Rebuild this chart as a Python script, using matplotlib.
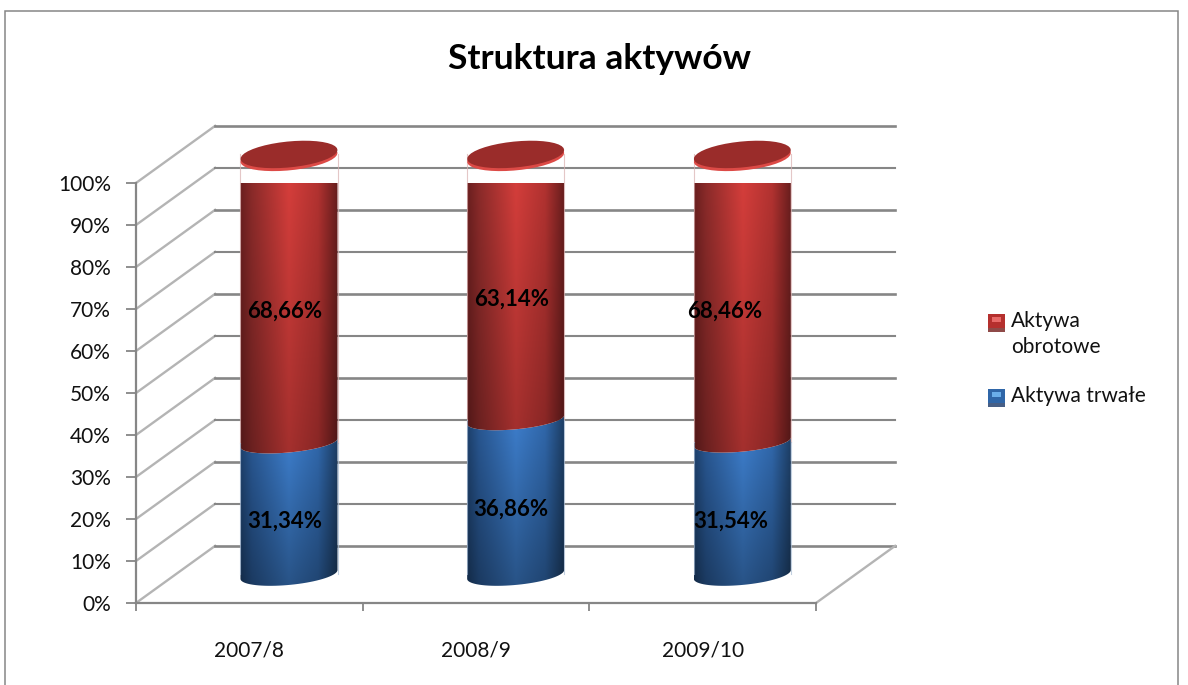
#!/usr/bin/env python3
"""Struktura aktywow - stacked 3D look cylinder chart."""
import matplotlib
matplotlib.use('Agg')
import matplotlib.pyplot as plt
import numpy as np
from matplotlib.patches import PathPatch, Polygon, Rectangle
from matplotlib.path import Path

plt.rcParams['font.family'] = ['Lato', 'DejaVu Sans']

years = ['2007/8', '2008/9', '2009/10']
trwale = [31.34, 36.86, 31.54]
obrotowe = [68.66, 63.14, 68.46]
trwale_labels = ['31,34%', '36,86%', '31,54%']
obrotowe_labels = ['68,66%', '63,14%', '68,46%']
yticks = [0, 10, 20, 30, 40, 50, 60, 70, 80, 90, 100]

W, H = 1188, 685
GRID = '#868686'
DEPTH_X, DEPTH_Y = 0.349, 13.6   # wall depth in data units
BAR_SHIFT = 0.175
BAR_HALF = 0.214
BASE = 6.8                       # bar floor sits this far above the front edge
TILT = 1.05


def profile(stops, n=128):
    xs = np.linspace(0, 1, n)
    pos = [s[0] for s in stops]
    rgb = np.array([matplotlib.colors.to_rgb(s[1]) for s in stops])
    return np.stack([np.interp(xs, pos, rgb[:, i]) for i in range(3)], axis=1)


RED = profile([(0, '#6e2020'), (0.12, '#8f2c2b'), (0.5, '#dc403d'), (0.8, '#b83432'), (1, '#6a1e1e')])
BLUE = profile([(0, '#1f4472'), (0.12, '#2b5c9a'), (0.5, '#4084d6'), (0.8, '#336db4'), (1, '#1e4068')])


def arc(cx, cy, b, t0, t1, n=40):
    t = np.linspace(t0, t1, n)
    return np.column_stack([cx + BAR_HALF * np.cos(t), cy + b * np.sin(t) + TILT * np.cos(t)])


def segment(ax, cx, y0, y1, colors, top_back, b0=2.5, b1=2.3, dim=(0.72, 1.0)):
    # y0 and y1 are ellipse centres, front arc at bottom, front or back arc at top
    lower = arc(cx, y0, b0, np.pi, 2 * np.pi)
    if top_back:
        upper = arc(cx, y1, b1, 0, np.pi)
    else:
        upper = arc(cx, y1, b1, 2 * np.pi, np.pi)
    pts = np.vstack([lower, upper])
    patch = Polygon(pts, closed=True, transform=ax.transData, facecolor='none', edgecolor='none')
    ax.add_patch(patch)
    shade = np.linspace(dim[0], dim[1], 64)[:, None, None]
    img = colors[None, :, :] * shade
    im = ax.imshow(img, extent=(cx - BAR_HALF, cx + BAR_HALF, y0 - 4, y1 + 4), origin='lower',
                   aspect='auto', zorder=3, clip_on=True, interpolation='bilinear')
    im.set_clip_path(patch)
    return im


fig = plt.figure(figsize=(W / 100, H / 100), dpi=100, facecolor='white')
ax = fig.add_axes([136 / W, 1 - 603 / H, 680 / W, 420 / H])
ax.patch.set_visible(False)

# outer frame
fig.add_artist(Rectangle((4.5 / W, -0.01), (1178 - 4.5) / W, 1.01 - 10.5 / H, transform=fig.transFigure,
                         fill=False, edgecolor=GRID, lw=1.1))

# walls
for v in yticks:
    ax.plot([0, DEPTH_X], [v, v + DEPTH_Y], color='#b4b4b4', lw=1.7, zorder=1, clip_on=False)
    ax.plot([DEPTH_X, 3 + DEPTH_X], [v + DEPTH_Y] * 2, color=GRID, lw=1.5 if v % 20 else 1.9, zorder=1, clip_on=False)
ax.plot([3, 3 + DEPTH_X], [0, DEPTH_Y], color='#b4b4b4', lw=1.7, zorder=1, clip_on=False)

# bars
for i in range(len(years)):
    cx = i + 0.5 + BAR_SHIFT
    mid = BASE + trwale[i]
    top = mid + obrotowe[i]
    segment(ax, cx, BASE, mid, BLUE, False, dim=(0.62, 0.98))
    segment(ax, cx, mid, top, RED, True, b0=2.3, b1=3.1, dim=(0.74, 1.0))
    for x_edge, col in ((cx - BAR_HALF, '#d9b0b0'), (cx + BAR_HALF, '#d9b0b0')):
        ax.plot([x_edge, x_edge], [mid, top], color=col, lw=0.8, alpha=0.7, zorder=3.1, clip_on=False)
    for x_edge in (cx - BAR_HALF, cx + BAR_HALF):
        ax.plot([x_edge, x_edge], [BASE, mid], color='#a9bcd4', lw=0.8, alpha=0.7, zorder=3.1, clip_on=False)
    # top cap with lighter rim
    rim = Polygon(arc(cx, top - 0.7, 3.1, 0, 2 * np.pi), closed=True, facecolor='#dc4a46',
                  edgecolor='none', zorder=3.2, clip_on=False)
    cap = Polygon(arc(cx, top, 3.1, 0, 2 * np.pi), closed=True, facecolor='#9a2c2a',
                  edgecolor='none', zorder=3.3, clip_on=False)
    ax.add_patch(rim)
    ax.add_patch(cap)

# value labels
nudge = [-0.02, -0.02, -0.05]
for i in range(len(years)):
    cx = i + 0.5 + BAR_SHIFT + nudge[i]
    ax.text(cx, BASE + trwale[i] / 2 - 3, trwale_labels[i], ha='center', va='center',
            fontsize=16, fontweight='bold', color='black', zorder=5, clip_on=False)
    ax.text(cx - (0.0 if i != 2 else 0.03), BASE + trwale[i] + obrotowe[i] / 2 - 3, obrotowe_labels[i], ha='center',
            va='center', fontsize=16, fontweight='bold', color='black', zorder=5, clip_on=False)

ax.set_xlim(0, 3)
ax.set_ylim(0, 100)
ax.set_yticks(yticks)
ax.set_yticklabels(['%d%%' % v for v in yticks])
ax.set_xticks([0, 1, 2, 3])
ax.set_xticklabels([])
ax.set_xticks([0.5, 1.5, 2.5], minor=True)
ax.set_xticklabels(years, minor=True)
ax.tick_params(axis='y', length=7, width=1.3, color=GRID, pad=11, labelsize=15, labelcolor='#111111')
ax.tick_params(axis='x', which='major', length=6, width=1.3, color=GRID)
ax.tick_params(axis='x', which='minor', length=0, pad=27, labelsize=15, labelcolor='#111111')
for side in ('top', 'right'):
    ax.spines[side].set_visible(False)
for side in ('left', 'bottom'):
    ax.spines[side].set_color(GRID)
    ax.spines[side].set_linewidth(1.6)

fig.text(600 / W, 1 - 59 / H, 'Struktura aktywów', ha='center', va='center',
         fontsize=25.5, fontweight='bold', color='black')

# legend
legend_names = ['Aktywa\nobrotowe', 'Aktywa trwałe']
legend_colors = [('#b5302e', '#e86a68', '#8f4a48'), ('#2f66a8', '#6aaeea', '#475f86')]
legend_tops = [314, 389]
for name, cols, top in zip(legend_names, legend_colors, legend_tops):
    def box(x0, y0, x1, y1, c):
        fig.add_artist(Rectangle((x0 / W, 1 - y1 / H), (x1 - x0) / W, (y1 - y0) / H, facecolor=c,
                                 edgecolor='none', transform=fig.transFigure))
    box(988, top, 1005, top + 18, cols[0])
    box(992, top + 3, 1001, top + 8, cols[1])
    box(988, top + 14, 1005, top + 18, cols[2])
    fig.text(1011 / W, 1 - (top - 3) / H, name, ha='left', va='top', fontsize=15, color='#111111', linespacing=1.35)

fig.savefig('out.png', dpi=100)
